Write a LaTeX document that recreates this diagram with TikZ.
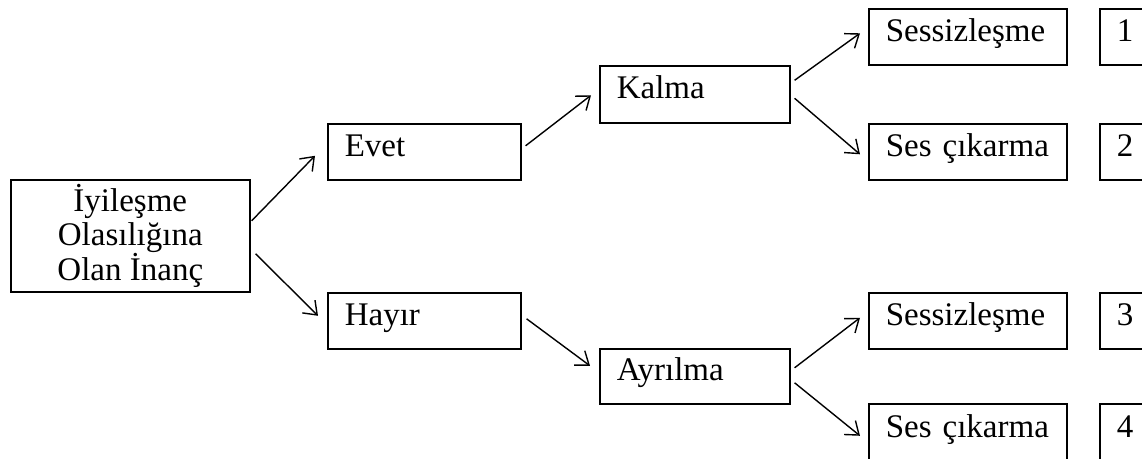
\documentclass[tikz,border=0pt]{standalone}
\usepackage{fontspec}
\setmainfont{Liberation Serif}
\usetikzlibrary{arrows.meta,calc}

\begin{document}
\begin{tikzpicture}[
    x=0.5pt, y=-0.5pt,
    every node/.style={font=\fontsize{16.5}{17.3}\selectfont},
    box/.style={draw, line width=0.8pt, anchor=north west, inner xsep=8.5pt,
                inner ysep=0pt, text height=12pt, text depth=7.5pt, align=left},
    lvlone/.style={box, text width=79.5pt, minimum height=28pt},
    lvltwo/.style={box, text width=78pt, minimum height=28.5pt},
    lvlthree/.style={box, text width=82pt, minimum height=28pt},
    numbox/.style={box, text width=13pt, minimum height=28pt},
    arr/.style={-{Straight Barb[length=6pt,width=9pt]}, line width=0.7pt},
  ]
  \clip (0,0) rectangle (1142,459);

  %% Root
  \node[draw, line width=0.8pt, anchor=north west, minimum width=119.5pt,
        minimum height=56pt, inner sep=0pt, align=center] (inanc) at (10,179)
        {İyileşme\\Olasılığına\\Olan İnanç};

  %% First level
  \node[lvlone] (evet) at (327,123) {Evet};
  \node[lvlone] (hayir) at (327,292) {Hayır};

  %% Second level
  \node[lvltwo] (kalma) at (599,65) {Kalma};
  \node[lvltwo, minimum height=27.5pt] (ayrilma) at (599,348) {Ayrılma};

  %% Third level
  \node[lvlthree] (sessA) at (868,8) {Sessizleşme};
  \node[lvlthree] (sesA) at (868,123) {Ses çıkarma};
  \node[lvlthree] (sessB) at (868,292) {Sessizleşme};
  \node[lvlthree, minimum height=29pt] (sesB) at (868,403) {Ses çıkarma};

  %% Outcome numbers
  \node[numbox] (numA) at (1099,8) {1};
  \node[numbox] (numB) at (1099,123) {2};
  \node[numbox] (numC) at (1099,292) {3};
  \node[numbox, minimum height=29pt] (numD) at (1099,403) {4};

  %% Arrows
  \draw[arr] ($(inanc.east)+(1,-15)$) -- ($(evet.west)+(-12,4)$);
  \draw[arr] ($(inanc.east)+(5,18)$) -- ($(hayir.west)+(-9,-5)$);
  \draw[arr] ($(evet.east)+(4,-6)$) -- ($(kalma.west)+(-8,1)$);
  \draw[arr] ($(hayir.east)+(5,-2)$) -- ($(ayrilma.west)+(-9,-10.5)$);
  \draw[arr] ($(kalma.east)+(4,-14)$) -- ($(sessA.west)+(-8,-3.5)$);
  \draw[arr] ($(kalma.east)+(4,4)$) -- ($(sesA.west)+(-8,2.5)$);
  \draw[arr] ($(ayrilma.east)+(4,-8.5)$) -- ($(sessB.west)+(-8,-3)$);
  \draw[arr] ($(ayrilma.east)+(4,6.5)$) -- ($(sesB.west)+(-8,3)$);
\end{tikzpicture}
\end{document}
